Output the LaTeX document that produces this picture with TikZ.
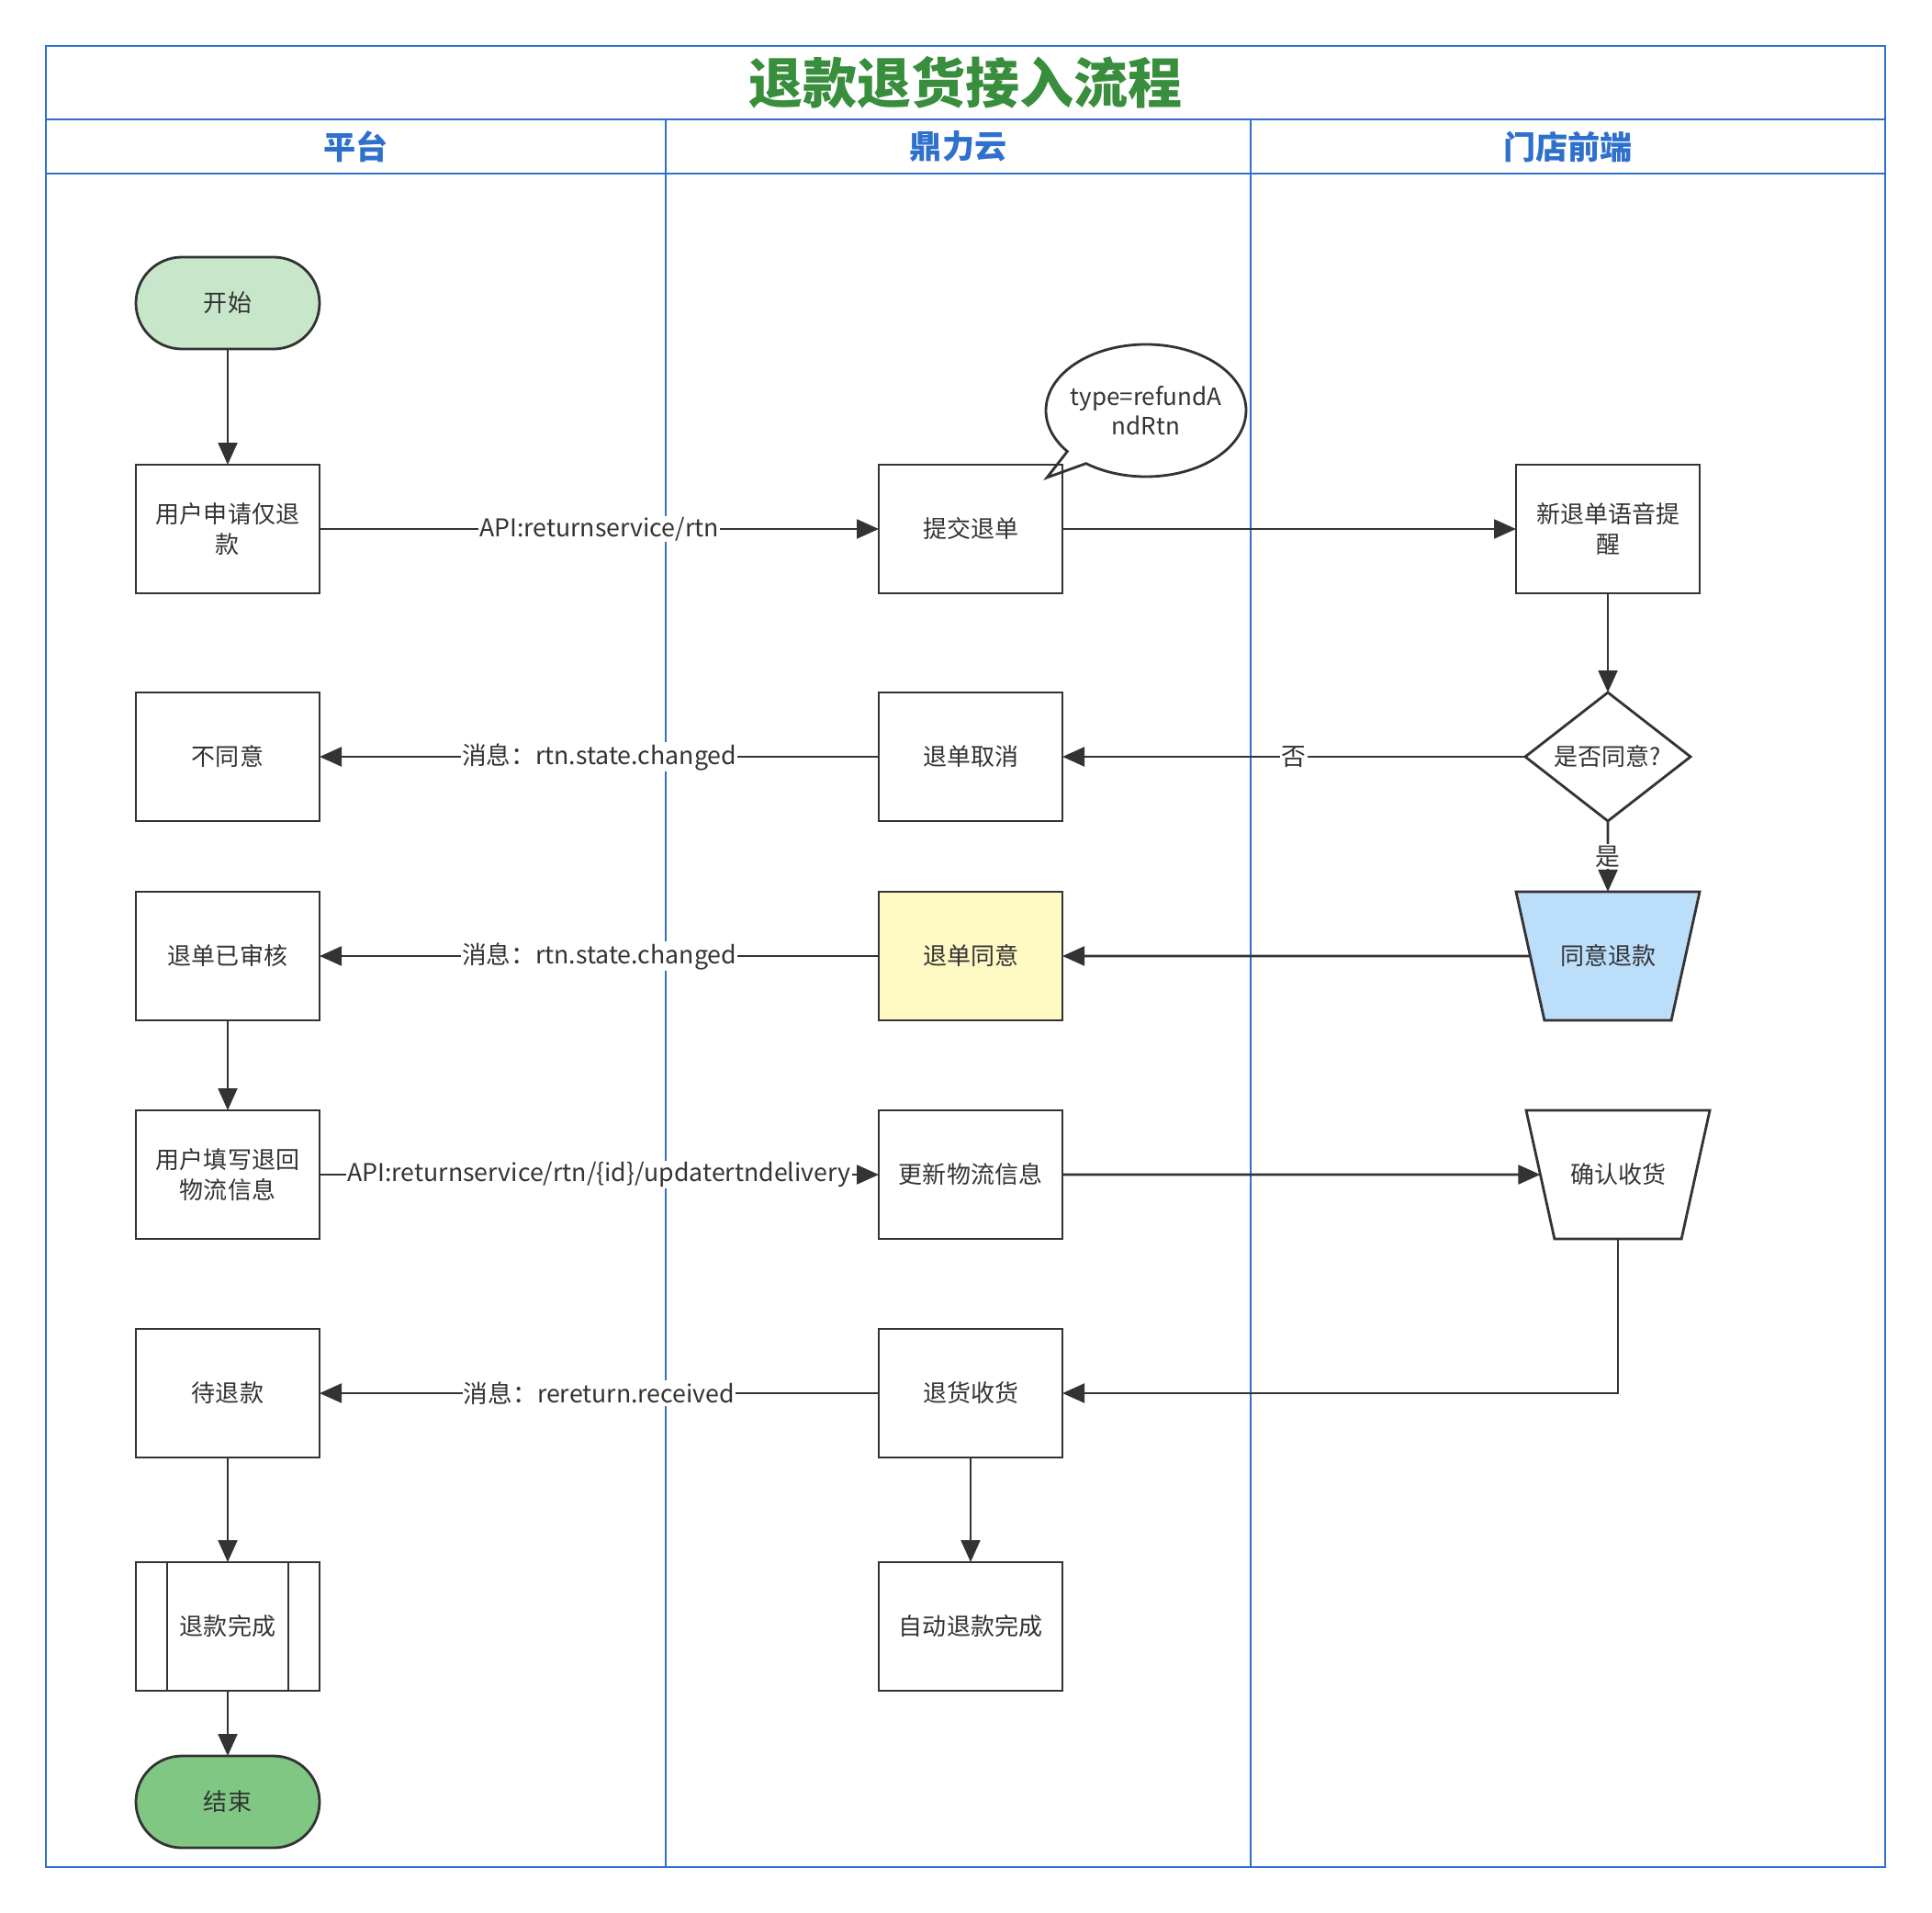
\documentclass[tikz,border=0pt]{standalone}
\usepackage{fontspec}
\setmainfont{Noto Sans CJK SC}
\usepackage{tikz}
\usetikzlibrary{shapes.geometric, shapes.callouts, arrows.meta, positioning, calc}
\definecolor{cLine}{RGB}{51,51,51}
\definecolor{cLane}{RGB}{46,112,204}
\definecolor{cTitle}{RGB}{56,142,60}
\definecolor{cStart}{RGB}{200,230,201}
\definecolor{cEnd}{RGB}{129,199,132}
\definecolor{cBlue}{RGB}{187,222,251}
\definecolor{cYellow}{RGB}{255,249,196}
\tikzset{
	startstop/.style={rectangle, rounded corners=1.25cm, minimum width=5cm, minimum height=2.5cm, outer sep=0pt, text centered, draw=cLine, line width=2pt},
	process/.style  ={rectangle, minimum width=5cm, minimum height=3.5cm, outer sep=0pt, text centered, align=center, draw=cLine, line width=2pt, fill=white},
	decision/.style ={diamond, aspect=1.3, minimum width=4.5cm, minimum height=3.5cm, inner sep=0pt, outer sep=0pt, text centered, draw=cLine, line width=2pt, fill=white},
	iotrap/.style   ={trapezium, trapezium left angle=102.5, trapezium right angle=102.5, trapezium stretches body=true, inner xsep=0.2cm, inner ysep=1.44cm, minimum width=5cm, minimum height=3.5cm, outer sep=0pt, text centered, draw=cLine, line width=2pt, fill=white},
	notebubble/.style={ellipse callout, minimum width=5.45cm, minimum height=3.6cm, inner xsep=-0.25cm, inner ysep=0pt, outer sep=0pt, align=center, draw=cLine, line width=2pt},
	flowarrow/.style={-{Triangle[length=0.6cm, width=0.52cm]}, line width=2pt, draw=cLine},
	lbl/.style={fill=white, inner sep=1pt, font=\fontsize{19}{23}\selectfont},
	% swimlane frame
	lanebox/.style={draw=cLane, line width=1.4pt},
	lanesep/.style={draw=cLane, line width=0.8pt},
}

\begin{document}
\begin{tikzpicture}[font=\fontsize{18.5}{23}\selectfont, text=cLine]
	\useasboundingbox (0,0) rectangle (52.6,-52.05);
	% lanes
	\draw[lanebox] (1.25,-1.25) rectangle (51.325,-50.825);
	\draw[lanebox] (1.25,-3.25) -- (51.325,-3.25);
	\draw[lanebox] (1.25,-4.725) -- (51.325,-4.725);
	\draw[lanesep] (18.125,-3.25) -- (18.125,-50.825);
	\draw[lanesep] (34.05,-3.25) -- (34.05,-50.825);
	\node[font=\fontsize{42}{50}\selectfont\bfseries, text=cTitle] (title) at (26.29,-2.25) {退款退货接入流程};
	\node[font=\fontsize{25}{30}\selectfont\bfseries, text=cLane] (lane1) at (9.69,-3.99) {平台};
	\node[font=\fontsize{25}{30}\selectfont\bfseries, text=cLane] (lane2) at (26.09,-3.99) {鼎力云};
	\node[font=\fontsize{25}{30}\selectfont\bfseries, text=cLane] (lane3) at (42.69,-3.99) {门店前端};

	% platform column
	\node[startstop, fill=cStart] (start) at (6.2,-8.25) {开始};
	\node[process, below=3.15cm of start] (apply) {用户申请仅退\\款};
	\node[process, below=2.7cm of apply] (reject) {不同意};
	\node[process, below=1.925cm of reject] (audited) {退单已审核};
	\node[process, below=2.45cm of audited] (fillin) {用户填写退回\\物流信息};
	\node[process, below=2.45cm of fillin] (pending) {待退款};
	\node[process, below=2.85cm of pending] (refunded) {退款完成};
	\draw[line width=2pt, draw=cLine] ([xshift=0.85cm]refunded.north west) -- ([xshift=0.85cm]refunded.south west);
	\draw[line width=2pt, draw=cLine] ([xshift=-0.85cm]refunded.north east) -- ([xshift=-0.85cm]refunded.south east);
	\node[startstop, fill=cEnd, below=1.775cm of refunded] (stop) {结束};

	% cloud column
	\node[process, right=15.225cm of apply] (submit) {提交退单};
	\node[notebubble, callout absolute pointer={($(submit.north east)+(-0.42,-0.35)$)}] (note) at ($(submit.north east)+(2.275,1.475)$) {type=refundA\\ndRtn};
	\node[process, right=15.225cm of reject] (cancel) {退单取消};
	\node[process, fill=cYellow, right=15.225cm of audited] (approve) {退单同意};
	\node[process, right=15.225cm of fillin] (update) {更新物流信息};
	\node[process, right=15.225cm of pending] (received) {退货收货};
	\node[process, right=15.225cm of refunded] (autodone) {自动退款完成};

	% store column
	\node[process, right=12.35cm of submit] (remind) {新退单语音提\\醒};
	\node[decision, below=2.7cm of remind] (agree) {是否同意?};
	\node[iotrap, fill=cBlue] (agreeref) at ($(approve.east)+(14.85,0)$) {同意退款};
	\node[iotrap] (confirm) at ($(update.east)+(15.125,0)$) {确认收货};

	\draw[flowarrow] (start) -- (apply);
	\draw[flowarrow] (apply) -- node[lbl]{API:returnservice/rtn} (submit);
	\draw[flowarrow] (submit) -- (remind);
	\draw[flowarrow] (remind) -- (agree);
	\draw[flowarrow] (agree) -- node[lbl]{否} (cancel);
	\draw[flowarrow] (cancel) -- node[lbl]{消息：rtn.state.changed} (reject);
	\draw[flowarrow] (agree) -- node[lbl]{是} (agreeref);
	\draw[flowarrow] (agreeref) -- (approve);
	\draw[flowarrow] (approve) -- node[lbl]{消息：rtn.state.changed} (audited);
	\draw[flowarrow] (audited) -- (fillin);
	\draw[flowarrow] (fillin) -- node[lbl]{API:returnservice/rtn/\{id\}/updatertndelivery} (update);
	\draw[flowarrow] (update) -- (confirm);
	\draw[flowarrow] (confirm) |- (received);
	\draw[flowarrow] (received) -- node[lbl]{消息：rereturn.received} (pending);
	\draw[flowarrow] (pending) -- (refunded);
	\draw[flowarrow] (refunded) -- (stop);
	\draw[flowarrow] (received) -- (autodone);
\end{tikzpicture}
\end{document}
